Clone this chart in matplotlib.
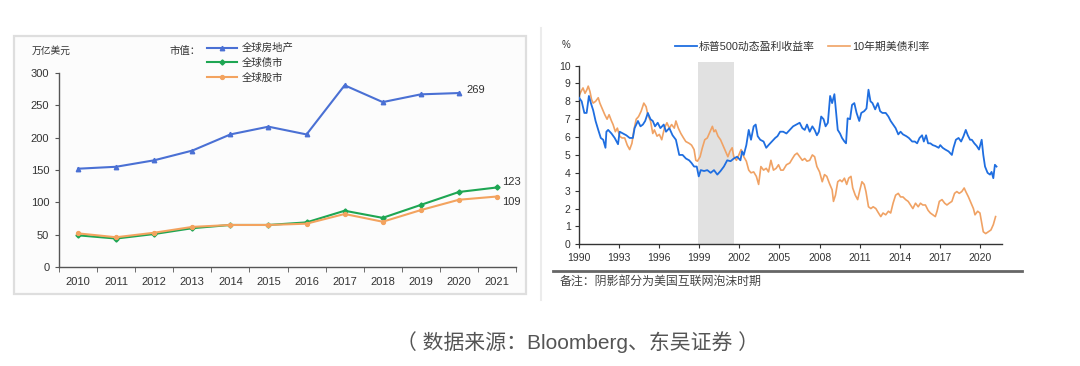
import numpy as np
import matplotlib
matplotlib.use('Agg')
import matplotlib.pyplot as plt
from matplotlib.patches import Rectangle
from matplotlib.lines import Line2D

plt.rcParams['font.family'] = ['Liberation Sans', 'Noto Sans CJK SC', 'DejaVu Sans']

# ---------------- left chart data ----------------
years = ['2010', '2011', '2012', '2013', '2014', '2015', '2016', '2017', '2018', '2019', '2020', '2021']
real_estate = [152, 155, 165, 180, 205, 217, 205, 281, 255, 267, 269, np.nan]
bonds = [49, 44, 51, 60, 65, 65, 69, 87, 76, 96, 116, 123]
stocks = [52, 46, 53, 62, 65, 65, 67, 82, 70, 88, 104, 109]
left_names = ['全球房地产', '全球债市', '全球股市']

# ---------------- right chart data ----------------
ey_t = [1990.00, 1990.20, 1990.40, 1990.57, 1990.74, 1990.89, 1991.06, 1991.24, 1991.44, 1991.63,
        1991.81, 1991.98, 1992.05, 1992.18, 1992.43, 1992.67, 1992.92, 1993.04, 1993.29, 1993.54,
        1993.79, 1994.03, 1994.16, 1994.41, 1994.60, 1994.78, 1994.95, 1995.15, 1995.35, 1995.52,
        1995.69, 1995.89, 1996.09, 1996.34, 1996.51, 1996.76, 1997.00, 1997.25, 1997.50, 1997.75,
        1998.00, 1998.24, 1998.42, 1998.61, 1998.81, 1998.96, 1999.11, 1999.36, 1999.60, 1999.85,
        2000.10, 2000.35, 2000.59, 2000.84, 2001.09, 2001.34, 2001.58, 2001.83, 2002.08, 2002.20,
        2002.33, 2002.52, 2002.70, 2002.87, 2003.07, 2003.22, 2003.37, 2003.56, 2003.81, 2004.01,
        2004.18, 2004.43, 2004.68, 2004.85, 2005.05,
        2005.28, 2005.52, 2005.77, 2006.02, 2006.27, 2006.51, 2006.71, 2006.89, 2007.06, 2007.26,
        2007.46, 2007.63, 2007.80, 2007.95, 2008.12, 2008.30, 2008.45, 2008.62, 2008.79, 2008.94,
        2009.11, 2009.24, 2009.36, 2009.53, 2009.68, 2009.86, 2009.98, 2010.10, 2010.28, 2010.43,
        2010.60, 2010.77, 2010.97, 2011.12, 2011.34, 2011.51, 2011.66, 2011.81, 2011.96, 2012.16,
        2012.36, 2012.53, 2012.70, 2012.95, 2013.15, 2013.32, 2013.50, 2013.69, 2013.89, 2014.06,
        2014.24, 2014.49, 2014.68, 2014.93, 2015.13, 2015.30, 2015.48, 2015.67, 2015.80, 2015.97,
        2016.12, 2016.29, 2016.47, 2016.66, 2016.91, 2017.03, 2017.21, 2017.41, 2017.65, 2017.90,
        2018.02, 2018.20, 2018.40, 2018.59, 2018.77, 2018.94, 2019.09, 2019.26, 2019.39, 2019.58,
        2019.76, 2019.93, 2020.13, 2020.25, 2020.38, 2020.57, 2020.75, 2020.87, 2021.00, 2021.12,
        2021.24]
ey_v = [8.2, 8.0, 7.35, 7.35, 8.3, 7.9, 7.5, 6.9, 6.4, 5.95,
        5.85, 5.4, 6.3, 6.4, 6.2, 5.95, 5.6, 6.3, 6.2, 6.1,
        5.95, 5.95, 6.5, 6.9, 6.6, 6.7, 6.9, 7.35, 7.0, 6.9,
        6.6, 6.8, 6.5, 6.7, 6.3, 6.5, 6.1, 5.85, 5.0, 5.0,
        4.8, 4.7, 4.55, 4.35, 4.35, 3.8, 4.15, 4.1, 4.15, 4.0,
        4.15, 3.9, 4.1, 4.35, 4.7, 4.65, 4.8, 4.9, 4.7, 5.2,
        5.0, 5.55, 6.4, 5.85, 6.6, 6.7, 6.05, 5.85, 5.75, 5.4,
        5.55, 5.75, 5.95, 6.05, 6.3,
        6.3, 6.2, 6.4, 6.6, 6.7, 6.8, 6.5, 6.4, 6.7, 6.3,
        6.6, 6.4, 6.1, 6.3, 7.15, 7.0, 6.6, 6.8, 8.3, 7.9,
        8.4, 7.35, 6.4, 6.2, 5.95, 5.75, 5.65, 7.05, 7.0, 7.8,
        7.9, 7.35, 6.9, 7.35, 7.45, 7.6, 8.65, 8.0, 7.9, 7.55,
        7.9, 7.45, 7.35, 7.35, 7.15, 6.9, 6.7, 6.5, 6.15, 6.3,
        6.15, 6.05, 5.95, 5.75, 5.75, 5.65, 5.95, 6.1, 5.75, 6.1,
        5.65, 5.65, 5.55, 5.5, 5.4, 5.55, 5.4, 5.3, 5.2, 5.0,
        5.4, 5.85, 5.95, 5.75, 6.05, 6.4, 6.1, 5.85, 5.85, 5.65,
        5.5, 5.3, 5.85, 5.0, 4.35, 4.0, 3.9, 4.05, 3.7, 4.45,
        4.35]

ust_t = [1990.00, 1990.15, 1990.30, 1990.45, 1990.59, 1990.69, 1990.82, 1990.94, 1991.06, 1991.24,
         1991.44, 1991.56, 1991.73, 1991.93, 1992.10, 1992.25, 1992.43, 1992.55, 1992.72, 1992.87,
         1993.04, 1993.22, 1993.42, 1993.61, 1993.79, 1993.96, 1994.11, 1994.28, 1994.46, 1994.65,
         1994.85, 1995.02, 1995.15, 1995.35, 1995.52, 1995.64, 1995.84, 1996.01, 1996.19, 1996.39,
         1996.58, 1996.76, 1996.93, 1997.13, 1997.25, 1997.43, 1997.62, 1997.82, 1997.99, 1998.24,
         1998.42, 1998.61, 1998.74, 1998.86, 1999.06, 1999.23, 1999.41, 1999.60, 1999.80, 1999.98,
         2000.10, 2000.22, 2000.40, 2000.59, 2000.79, 2000.97, 2001.14, 2001.29, 2001.46, 2001.58,
         2001.78, 2001.96, 2002.13, 2002.33, 2002.52, 2002.70, 2002.87, 2003.07, 2003.27, 2003.44,
         2003.61, 2003.81, 2004.01, 2004.18, 2004.36, 2004.55, 2004.75, 2004.93, 2005.10,
         2005.28, 2005.52, 2005.77, 2005.97, 2006.14, 2006.32, 2006.51, 2006.71, 2006.89, 2007.06,
         2007.26, 2007.46, 2007.63, 2007.80, 2008.00, 2008.20, 2008.37, 2008.54, 2008.74, 2008.94,
         2009.04, 2009.19, 2009.36, 2009.53, 2009.68, 2009.86, 2010.03, 2010.18, 2010.35, 2010.48,
         2010.67, 2010.85, 2011.02, 2011.17, 2011.34, 2011.47, 2011.66, 2011.84, 2012.01, 2012.21,
         2012.41, 2012.58, 2012.75, 2012.95, 2013.15, 2013.32, 2013.50, 2013.69, 2013.89, 2014.06,
         2014.24, 2014.44, 2014.63, 2014.81, 2014.98, 2015.18, 2015.38, 2015.55, 2015.72, 2015.92,
         2016.12, 2016.29, 2016.47, 2016.66, 2016.79, 2016.96, 2017.16, 2017.36, 2017.53, 2017.70,
         2017.90, 2018.10, 2018.27, 2018.45, 2018.64, 2018.82, 2018.94, 2019.14, 2019.34, 2019.51,
         2019.63, 2019.83, 2020.00, 2020.13, 2020.25, 2020.43, 2020.62, 2020.82, 2021.00, 2021.17]
ust_v = [8.3, 8.55, 8.75, 8.45, 8.65, 8.85, 8.55, 8.1, 7.9, 8.0,
         8.2, 7.9, 7.6, 7.25, 7.0, 7.25, 6.9, 6.7, 6.3, 6.5,
         6.05, 5.95, 5.95, 5.55, 5.3, 5.65, 6.4, 7.0, 7.15, 7.45,
         7.9, 7.7, 7.25, 6.9, 6.2, 6.4, 6.05, 6.15, 5.85, 6.5,
         6.8, 6.5, 6.7, 6.5, 6.9, 6.5, 6.2, 5.95, 5.75, 5.65,
         5.55, 5.3, 4.7, 4.65, 4.9, 5.4, 5.85, 5.95, 6.3, 6.6,
         6.3, 6.4, 6.05, 5.85, 5.5, 5.2, 4.9, 5.2, 5.4, 4.9,
         4.7, 5.0, 5.3, 4.9, 4.65, 4.15, 4.0, 4.05, 3.8, 3.35,
         4.35, 4.15, 4.25, 4.05, 4.7, 4.15, 4.25, 4.45, 4.15,
         4.15, 4.45, 4.55, 4.8, 5.0, 5.1, 4.9, 4.7, 4.8, 4.65,
         4.7, 5.0, 4.9, 4.35, 4.05, 3.5, 3.9, 3.8, 3.4, 3.05,
         2.4, 2.75, 3.5, 3.6, 3.5, 3.7, 3.35, 3.7, 3.8, 3.15,
         2.75, 2.5, 3.05, 3.5, 3.35, 2.95, 2.1, 2.0, 2.1, 2.0,
         1.75, 1.55, 1.75, 1.65, 1.85, 1.75, 2.3, 2.75, 2.85, 2.65,
         2.65, 2.5, 2.4, 2.2, 2.0, 2.3, 2.1, 2.3, 2.2, 2.2,
         1.9, 1.75, 1.65, 1.55, 1.85, 2.4, 2.5, 2.3, 2.2, 2.3,
         2.4, 2.85, 2.95, 2.85, 2.95, 3.15, 2.95, 2.65, 2.3, 2.0,
         1.65, 1.85, 1.75, 1.2, 0.7, 0.6, 0.7, 0.8, 1.1, 1.55]

bubble = (1998.87, 2001.58)
right_names = ['标普500动态盈利收益率', '10年期美债利率']
right_ticks = list(range(1990, 2021, 3))

# ---------------- figure ----------------
W, H = 1080, 366
fig = plt.figure(figsize=(W / 100, H / 100), dpi=100)


def fx(x):
    return x / W


def fy(y):
    return 1 - y / H


# left panel frame (background)
fig.add_artist(Rectangle((fx(14), fy(294)), fx(512), (294 - 36) / H, transform=fig.transFigure,
                         facecolor='#fcfcfc', edgecolor='#dedede', lw=1.6, zorder=-10))
# right panel left edge / bottom rule
fig.add_artist(Line2D([fx(541), fx(541)], [fy(28), fy(300)], color='#ececec', lw=1.5, zorder=-10))
fig.add_artist(Line2D([fx(553), fx(1022)], [fy(271), fy(271)], color='#666666', lw=2.0))

txt = '#333333'

# ---------------- left axes ----------------
ax = fig.add_axes([fx(59), fy(267), fx(516 - 59), (267 - 73) / H])
ax.set_facecolor('none')
ax.set_zorder(5)
x = np.arange(len(years))
c_blue, c_green, c_orange = '#4a70d4', '#1ea653', '#f3a35f'
ax.plot(x, real_estate, color=c_blue, lw=1.5, marker='^', ms=3.2, label=left_names[0])
ax.plot(x, bonds, color=c_green, lw=1.5, marker='D', ms=2.6, label=left_names[1])
ax.plot(x, stocks, color=c_orange, lw=1.5, marker='o', ms=2.8, label=left_names[2])
ax.set_xlim(-0.5, len(years) - 0.5)
ax.set_ylim(0, 300)
ax.set_yticks(range(0, 301, 50))
ax.set_xticks(x)
ax.set_xticklabels(years)
ax.set_xticks(np.arange(-0.5, len(years), 1), minor=True)
ax.tick_params(axis='x', which='major', length=0, pad=7, labelsize=8, colors=txt)
ax.tick_params(axis='x', which='minor', length=3.5, direction='out', color='#555555')
ax.tick_params(axis='y', length=3, direction='out', pad=4, labelsize=8, colors=txt, color='#555555')
for s in ['top', 'right']:
    ax.spines[s].set_visible(False)
for s in ['left', 'bottom']:
    ax.spines[s].set_color('#555555')
    ax.spines[s].set_linewidth(1.0)

ax.annotate(f'{real_estate[10]:.0f}', (x[10], real_estate[10]), xytext=(8, 3), textcoords='offset pixels',
            fontsize=8, color=txt, va='center', ha='left')
ax.annotate(f'{bonds[11]}', (x[11], bonds[11]), xytext=(5, 5), textcoords='offset pixels',
            fontsize=8, color=txt, va='center', ha='left')
ax.annotate(f'{stocks[11]}', (x[11], stocks[11]), xytext=(5, -5), textcoords='offset pixels',
            fontsize=8, color=txt, va='center', ha='left')

fig.text(fx(32), fy(51), '万亿美元', fontsize=7, color=txt, va='center', ha='left')
fig.text(fx(170), fy(51), '市值：', fontsize=7.5, color=txt, va='center', ha='left')
leg = ax.legend(loc='upper left', bbox_to_anchor=(fx(207), fy(43)), bbox_transform=fig.transFigure,
                frameon=False, fontsize=7.5, handlelength=2.9, handletextpad=0.4, labelspacing=0.45,
                borderpad=0, borderaxespad=0)
for t in leg.get_texts():
    t.set_color(txt)

# ---------------- right axes ----------------
ax2 = fig.add_axes([fx(579), fy(244.3), fx(1002 - 579), (244.3 - 62) / H])
ax2.set_facecolor('none')
ax2.axvspan(bubble[0], bubble[1], color='#e1e1e1', lw=0, zorder=0)
ax2.plot(ey_t, ey_v, color='#1f6ee0', lw=1.3, label=right_names[0], zorder=3)
ax2.plot(ust_t, ust_v, color='#f0a264', lw=1.2, label=right_names[1], zorder=2)
ax2.set_xlim(1990, 2021.65)
ax2.set_ylim(0, 10.2)
ax2.set_yticks(range(0, 11))
ax2.set_xticks(right_ticks)
ax2.spines['left'].set_bounds(0, 10)
for s in ['top', 'right']:
    ax2.spines[s].set_visible(False)
for s in ['left', 'bottom']:
    ax2.spines[s].set_color('#333333')
    ax2.spines[s].set_linewidth(1.0)
ax2.tick_params(axis='both', length=3, direction='out', labelsize=7.5, colors=txt, color='#333333', pad=3)
fig.text(fx(562), fy(45), '%', fontsize=7, color=txt, va='center', ha='left')
leg2 = ax2.legend(loc='center left', bbox_to_anchor=(fx(675), fy(47)), bbox_transform=fig.transFigure,
                  ncol=2, frameon=False, fontsize=7.8, handlelength=2.0, handletextpad=0.2,
                  columnspacing=1.2, borderpad=0, borderaxespad=0)
for t in leg2.get_texts():
    t.set_color(txt)

fig.text(fx(560), fy(282), '备注：阴影部分为美国互联网泡沫时期', fontsize=8.6, color='#444444',
         va='center', ha='left')

# caption
fig.text(fx(578), fy(342), '（ 数据来源：Bloomberg、东吴证券 ）', fontsize=15, color='#555555',
         va='center', ha='center')

fig.savefig('out.png', dpi=100)
